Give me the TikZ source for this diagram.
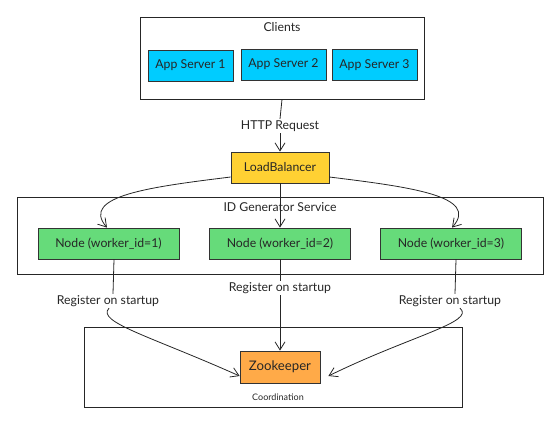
\documentclass[tikz,border=0pt]{standalone}
\usepackage{fontspec}
\setmainfont{Lato}
\usetikzlibrary{arrows.meta}
\definecolor{cyanfill}{HTML}{00CCFF}
\definecolor{goldfill}{HTML}{FFD133}
\definecolor{greenfill}{HTML}{66DB7A}
\definecolor{orangefill}{HTML}{FFAA48}
\definecolor{edgegray}{HTML}{333333}
\begin{document}
\begin{tikzpicture}[x=0.75pt,y=-0.75pt,
  every node/.style={font=\fontsize{9.2pt}{11pt}\selectfont, text=black!85},
  container/.style={draw=black!85, line width=0.6pt, inner sep=0pt},
  colbox/.style={draw=edgegray, line width=0.6pt, inner sep=0pt},
  elabel/.style={fill=white, inner sep=1pt},
  conn/.style={draw=black!85, line width=0.6pt, -{Straight Barb[length=6pt,width=7.5pt]}},
  plain/.style={draw=black!85, line width=0.6pt}
]
\useasboundingbox (0,0) rectangle (560,423);
% containers
\node[container, minimum width=284*0.75pt, minimum height=82*0.75pt] (clients) at (282,58) {};
\node (clientst) at (282,27) {Clients};
\node[container, minimum width=526*0.75pt, minimum height=77*0.75pt] (idgen) at (280,235.5) {};
\node (idgent) at (280,207) {ID Generator Service};
\node[container, minimum width=378*0.75pt, minimum height=80*0.75pt] (coord) at (273,367) {};
\node[font=\fontsize{6.75pt}{8pt}\selectfont] (coordt) at (278,397) {Coordination};
% app servers
\node[colbox, fill=cyanfill, minimum width=85*0.75pt, minimum height=31*0.75pt] (a1) at (190.5,65.5) {App Server 1};
\node[colbox, fill=cyanfill, minimum width=85*0.75pt, minimum height=31*0.75pt] (a2) at (283.5,64.5) {App Server 2};
\node[colbox, fill=cyanfill, minimum width=85*0.75pt, minimum height=31*0.75pt] (a3) at (374.5,65) {App Server 3};
% load balancer
\node[colbox, fill=goldfill, minimum width=98*0.75pt, minimum height=31*0.75pt] (lb) at (280,167.5) {LoadBalancer};
% worker nodes
\node[colbox, fill=greenfill, minimum width=141*0.75pt, minimum height=31*0.75pt] (n1) at (108.5,243.5) {Node (worker\_id=1)};
\node[colbox, fill=greenfill, minimum width=141*0.75pt, minimum height=31*0.75pt] (n2) at (280,243.5) {Node (worker\_id=2)};
\node[colbox, fill=greenfill, minimum width=141*0.75pt, minimum height=31*0.75pt] (n3) at (451,243.5) {Node (worker\_id=3)};
% zookeeper
\node[colbox, fill=orangefill, minimum width=80*0.75pt, minimum height=32*0.75pt] (zk) at (280,367) {\fontsize{9.9pt}{11pt}\selectfont Zookeeper};
% edge labels
\node[elabel] (http) at (280,126) {HTTP Request};
\node[elabel] (r1) at (108,301) {Register on startup};
\node[elabel] (r2) at (280,288) {Register on startup};
\node[elabel] (r3) at (450,301) {Register on startup};
% connectors
\draw[plain] (clients.south) -- (http.north);
\draw[conn] (http.south) -- (lb.north);
\path (lb.west) ++(0,9.5) coordinate (lbw);
\path (lb.east) ++(0,9.5) coordinate (lbe);
\draw[conn] (lbw) .. controls (150,187) and (80,196) .. ([xshift=-1.5*0.75pt]n1.north);
\draw[conn] (lb.south) -- (n2.north);
\draw[conn] (lbe) .. controls (410,187) and (480,196) .. ([xshift=1*0.75pt]n3.north);
\draw[plain] ([xshift=5.5*0.75pt]n1.south) -- ([xshift=5*0.75pt]r1.north);
\draw[plain] ([xshift=5*0.75pt]n3.south) -- ([xshift=5*0.75pt]r3.north);
\draw[plain] (n2.south) -- (r2.north);
\draw[conn] (r2.south) -- (zk.north);
\draw[conn] ([xshift=1*0.75pt]r1.south) .. controls (96,322) and (150,336) .. ([yshift=-9*0.75pt]zk.west);
\draw[conn] ([xshift=10*0.75pt]r3.south) .. controls (476,322) and (410,336) .. ([xshift=8*0.75pt,yshift=-9*0.75pt]zk.east);
\end{tikzpicture}
\end{document}
